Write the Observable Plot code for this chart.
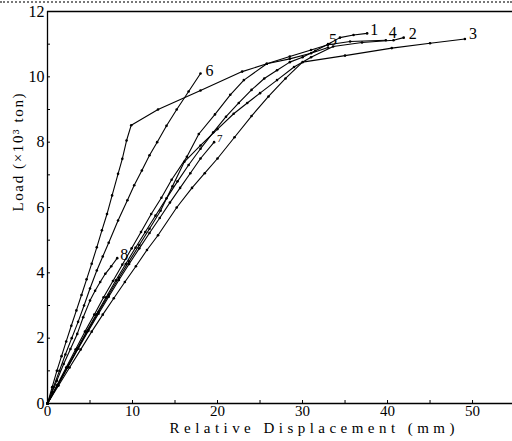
<!DOCTYPE html>
<html>
<head>
<meta charset="utf-8">
<script src="https://cdn.jsdelivr.net/npm/d3@7"></script>
<script src="https://cdn.jsdelivr.net/npm/@observablehq/plot@0.6"></script>
<style>
  html, body { margin: 0; padding: 0; background: #fff; }
  #wrap { position: relative; width: 512px; height: 441px; overflow: hidden; }
  #dots { position: absolute; left: 0; top: 1px; width: 512px; border-top: 2px dotted #777; }
  svg { font-family: "Liberation Serif", "DejaVu Serif", serif; }
</style>
</head>
<body>
<div id="wrap"><div id="dots"></div></div>
<script>
// Load–displacement curves: [displacement (mm), load (x10^3 ton)]
const curve1 = [[0,0],[1.15,0.55],[2.3,1.1],[3.45,1.65],[4.6,2.2],[5.75,2.73],[6.9,3.25],[8.05,3.77],[9.2,4.27],[10.35,4.77],[11.5,5.25],[12.7,5.75],[14,6.28],[15.3,6.8],[16.6,7.3],[18,7.8],[19.5,8.3],[21,8.78],[22.5,9.2],[24,9.6],[25.5,9.95],[27,10.2],[28.5,10.45],[30,10.6],[31.5,10.8],[33,11.0],[34.4,11.2],[36,11.28],[37.6,11.33]];
const curve2 = [[0,0],[1.2,0.56],[2.4,1.13],[3.6,1.7],[4.8,2.25],[6,2.8],[7.2,3.33],[8.4,3.85],[9.6,4.35],[10.8,4.85],[12,5.35],[13.3,5.9],[14.7,6.65],[16.1,7.4],[18,7.9],[20,8.4],[21.9,8.87],[23.5,9.2],[25,9.5],[27,9.9],[29,10.3],[31,10.6],[33.6,10.93],[37,11.05],[40.7,11.12],[41.9,11.2]];
const curve3 = [[0,0],[1.3,0.55],[2.6,1.1],[3.9,1.65],[5.2,2.2],[6.5,2.72],[7.8,3.22],[9.1,3.72],[10.4,4.2],[11.7,4.7],[13,5.15],[15.2,6.0],[17,6.6],[18.5,7.05],[20,7.5],[22,8.15],[24,8.8],[26,9.4],[28,9.95],[30,10.45],[35,10.65],[40.5,10.88],[45,11.03],[49.1,11.16]];
const curve4 = [[0,0],[1.1,0.55],[2.2,1.1],[3.3,1.65],[4.4,2.2],[5.5,2.72],[6.6,3.25],[7.7,3.75],[8.8,4.25],[9.9,4.75],[11,5.25],[12.2,5.8],[13.4,6.3],[14.6,6.85],[16.4,7.55],[17.8,8.25],[19.7,8.85],[21.5,9.45],[23.1,9.9],[25.8,10.4],[28.5,10.62],[31,10.82],[33,10.98],[35.6,11.08],[39.8,11.12]];
const curve5 = [[0,0],[0.55,0.5],[1.1,1.0],[1.65,1.45],[2.2,1.9],[2.8,2.38],[3.4,2.85],[4.0,3.32],[4.6,3.8],[5.2,4.28],[5.8,4.78],[6.4,5.3],[7.0,5.8],[7.6,6.37],[8.3,7.03],[8.8,7.49],[9.3,8.05],[9.85,8.52],[13,9.0],[18,9.58],[22.9,10.16],[25.8,10.4],[28.5,10.55],[31,10.72],[33,10.9]];
const curve6 = [[0,0],[0.7,0.5],[1.4,1.0],[2.1,1.5],[2.85,2.0],[3.6,2.5],[4.3,3.0],[5.0,3.52],[5.8,4.07],[6.5,4.5],[7.2,4.92],[8.3,5.6],[9.4,6.22],[10.2,6.68],[11.1,7.13],[12.0,7.6],[12.9,8.0],[14.0,8.5],[15.2,9.0],[16.6,9.55],[18,10.1]];
const curve7 = [[0,0],[1.2,0.55],[2.4,1.12],[3.6,1.68],[4.8,2.22],[6,2.75],[7.2,3.27],[8.4,3.78],[9.6,4.27],[10.8,4.75],[12,5.22],[13.2,5.68],[14.4,6.15],[15.6,6.6],[16.8,7.05],[18,7.5],[19.6,8.0]];
const curve8 = [[0,0],[0.55,0.35],[1.1,0.7],[1.9,1.21],[2.7,1.67],[3.5,2.13],[4.2,2.64],[5.0,3.15],[5.6,3.45],[6.2,3.72],[6.8,3.97],[7.5,4.2],[8.2,4.45]];

const curveNames = ["1","2","3","4","5","6","7","8"];
const curves = [curve1, curve2, curve3, curve4, curve5, curve6, curve7, curve8];

const xTicks = [0,10,20,30,40,50];
const xMinorTicks = [5,10,15,20,25,30,35,40,45,50];
const yTicks = [0,2,4,6,8,10,12];
const yMinorTicks = [1,2,3,4,5,6,7,8,9,10,11];

const xLabel = "Relative Displacement (mm)";
const yLabel = "Load (×10³ ton)";

// label offsets (pixels) from each curve's end point
const labelOffsets = {"1":[3,-4],"2":[5,-4],"3":[4,-5],"4":[3,-7],"5":[1,-8],"6":[5,-3],"7":[3,-4],"8":[3,-3]};
const labelSizes = {"7":11};

const rows = curves.flatMap((c, i) => c.map(([x, y]) => ({x, y, id: curveNames[i]})));
const ends = curves.map((c, i) => ({x: c[c.length-1][0], y: c[c.length-1][1], id: curveNames[i]}));

const labelMarks = ends.map(e => Plot.text([e], {
  x: "x", y: "y", text: "id", textAnchor: "start",
  dx: labelOffsets[e.id][0], dy: labelOffsets[e.id][1],
  fontSize: labelSizes[e.id] || 16, fill: "black"
}));

const blank = () => "";

const chart = Plot.plot({
  width: 512,
  height: 441,
  marginLeft: 47,
  marginRight: 0,
  marginTop: 11,
  marginBottom: 38,
  style: {fontFamily: "Liberation Serif, serif", background: "white", overflow: "visible"},
  x: {domain: [0, 54.7]},
  y: {domain: [0, 12]},
  marks: [
    Plot.axisX({ticks: xMinorTicks, tickSize: -3, tickFormat: blank, label: null, strokeWidth: 1}),
    Plot.axisX({ticks: xTicks, tickSize: 0, tickPadding: 2, fontSize: 15, label: null, fill: "black"}),
    Plot.axisY({ticks: yMinorTicks, tickSize: -3, tickFormat: blank, label: null, strokeWidth: 1}),
    Plot.axisY({ticks: yTicks, tickSize: 0, tickPadding: 3, fontSize: 16, label: null, fill: "black"}),
    Plot.ruleY([0], {stroke: "black", strokeWidth: 1.3}),
    Plot.ruleY([12], {stroke: "black", strokeWidth: 1.5}),
    Plot.ruleX([0], {stroke: "black", strokeWidth: 1.3}),
    Plot.line(rows, {x: "x", y: "y", z: "id", stroke: "black", strokeWidth: 1.1}),
    Plot.dot(rows, {x: "x", y: "y", r: 1.3, fill: "black"}),
    ...labelMarks,
    Plot.text([xLabel], {frameAnchor: "bottom", lineAnchor: "bottom", dx: 32, dy: 29, fontSize: 15, fill: "black", className: "xlab"}),
    Plot.text([yLabel], {frameAnchor: "left", rotate: -90, dx: -29, dy: 4, fontSize: 15, fill: "black", className: "ylab"})
  ]
});
document.getElementById("wrap").appendChild(chart);
// stretch the axis titles to the reference's wide letter spacing
chart.querySelectorAll(".xlab text").forEach(t => { t.setAttribute("textLength", 285); t.setAttribute("lengthAdjust", "spacing"); });
chart.querySelectorAll(".ylab text").forEach(t => { t.setAttribute("textLength", 118); t.setAttribute("lengthAdjust", "spacing"); });
</script>
</body>
</html>
